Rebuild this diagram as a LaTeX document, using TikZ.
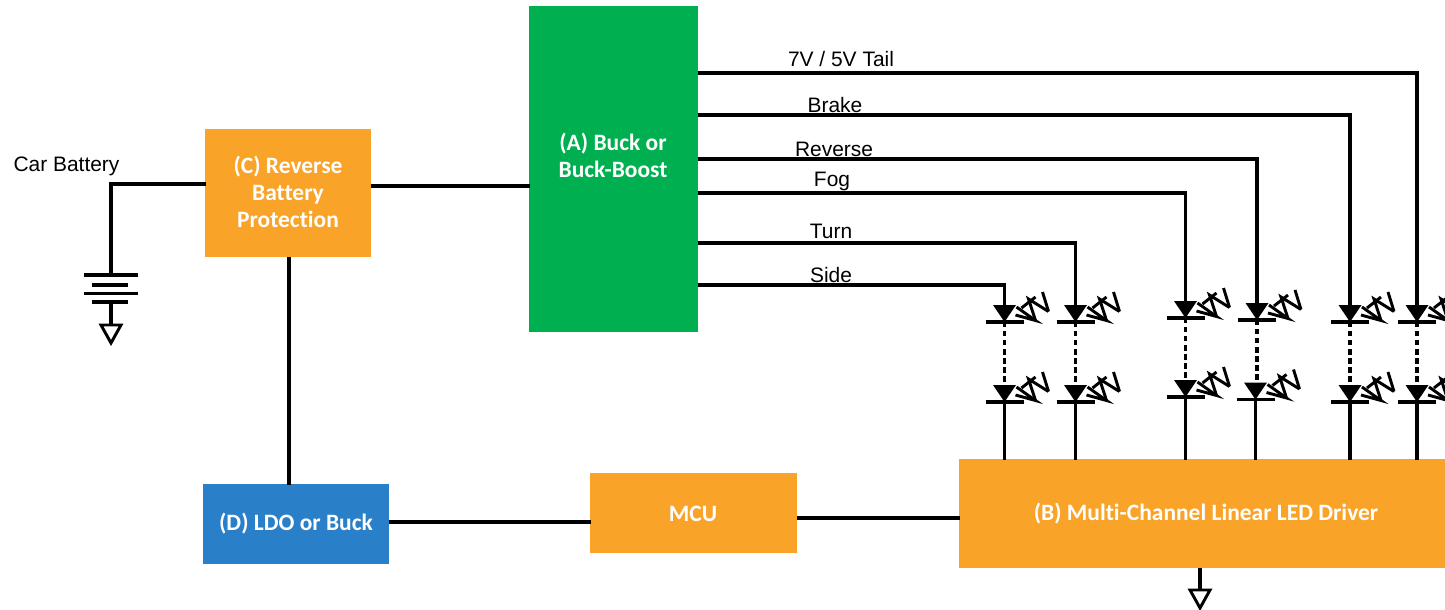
\documentclass[tikz,border=0pt]{standalone}
\usepackage{fontspec}
\setmainfont{Liberation Sans}
\newfontfamily\boxfont{Carlito}[BoldFont={Carlito Bold},Ligatures=NoCommon]
\definecolor{bgreen}{HTML}{00B050}
\definecolor{borange}{HTML}{F9A328}
\definecolor{bblue}{HTML}{2A7FC9}
\tikzset{
  x=0.75pt,y=-0.75pt,
  wire/.style={line width=2.3pt,line join=miter,shorten <=-0.6pt,shorten >=-0.6pt},
  thinwire/.style={line width=2.3pt},
  dots/.style={line width=2.4pt,dash pattern=on 4pt off 2.8pt},
  zig/.style={line width=2.2pt,line join=miter},
  block/.style={draw=none,align=center,text=white,inner sep=0pt,font=\boxfont\bfseries\fontsize{17.6}{20.3}\selectfont,anchor=north west},
  lab/.style={inner sep=0pt,font=\fontsize{15.7}{18}\selectfont},
  gndtri/.style={line width=2.2pt,fill=white,line join=miter},
}
\usetikzlibrary{calc}
% #1 name, #2 x, #3 y of triangle top
\newcommand{\ledsym}[3]{%
  \coordinate (#1-a) at (#2,#3);
  \coordinate (#1-k) at (#2,#3+17);
  \fill ($(#1-a)+(-11.5,0)$) -- ($(#1-a)+(11.5,0)$) -- (#1-k) -- cycle;
  \draw[thinwire] ($(#1-k)+(-19,0)$) -- ($(#1-k)+(19,0)$);
  \draw[zig] ($(#1-k)+(12,-15)$) -- ($(#1-k)+(31,-1.5)$) -- ($(#1-k)+(11,-7)$);
  \draw[zig] ($(#1-k)+(31,-1.5)$) -- ($(#1-k)+(24,-23)$) -- ($(#1-k)+(44,-10.5)$);
  \draw[zig] ($(#1-k)+(17,-14)$) -- ($(#1-k)+(31,-25)$);
  \draw[zig] ($(#1-k)+(44,-10.5)$) -- ($(#1-k)+(38,-30)$);
}
\begin{document}
\begin{tikzpicture}
\useasboundingbox (0,0) rectangle (1445,610);
\clip (0,0) rectangle (1445,610);
% blocks
\node[block,fill=bgreen,minimum width=126.75pt,minimum height=244.5pt] (A) at (529,6) {};
\node[block,fill=borange,minimum width=124.5pt,minimum height=96pt] (C) at (205,129) {};
\node[block,fill=bblue,minimum width=139.5pt,minimum height=60pt] (D) at (203,484) {};
\node[block,fill=borange,minimum width=155.25pt,minimum height=60pt] (M) at (590,473) {};
\node[block,fill=borange,minimum width=364.5pt,minimum height=81.75pt] (B) at (959,459) {};
\node[block,anchor=center] (Atext) at (613,155) {(A) Buck or\\Buck-Boost};
\node[block,anchor=center] (Ctext) at (288,192) {(C) Reverse\\Battery\\Protection};
\node[block,anchor=center] (Dtext) at (296,524) {(D) LDO or Buck};
\node[block,anchor=center] (Mtext) at (693,514) {MCU};
\node[block,anchor=center] (Btext) at (1206,514) {(B) Multi-Channel Linear LED Driver};
% LEDs
\ledsym{Ua}{1004.5}{305}\ledsym{La}{1004.5}{385}
\ledsym{Ub}{1075.5}{305}\ledsym{Lb}{1075.5}{385}
\ledsym{Uc}{1185.5}{301}\ledsym{Lc}{1185.5}{380}
\ledsym{Ud}{1257}{303}\ledsym{Ld}{1255.5}{382.5}
\ledsym{Ue}{1350}{305}\ledsym{Le}{1350}{385}
\ledsym{Uf}{1417}{305}\ledsym{Lf}{1417}{385}
% rails
\draw[wire] (A.north east |- 0,73) -| (Uf-a);
\draw[wire] (A.north east |- 0,115) -| (Ue-a);
\draw[wire] (A.north east |- 0,159) -| (Ud-a);
\draw[wire] (A.north east |- 0,193) -| (Uc-a);
\draw[wire] (A.north east |- 0,243) -| (Ub-a);
\draw[wire] (A.north east |- 0,285) -| (Ua-a);
% dotted strings and driver feeds
\foreach \c in {a,b,c,d,e,f}{
  \draw[dots] (U\c-k) -- (U\c-k |- L\c-a);
  \draw[wire] (L\c-k) -- (L\c-k |- B.north);
}
% other wires
\draw[wire] (C.east |- 0,186) -- (A.west |- 0,186);
\draw[wire] (C.south -| 289,0) -- (D.north -| 289,0);
\draw[wire] (D.east |- 0,522) -- (M.west |- 0,522);
\draw[wire] (M.east |- 0,518) -- (B.west |- 0,518);
% battery
\coordinate (bat) at (111,275);
\coordinate (batb) at (111,302);
\coordinate (gnda) at (111,325);
\coordinate (gndb) at (1200,590);
\draw[wire] (C.west |- 0,184) -| (bat);
\draw[thinwire] (84,275) -- (138,275);
\draw[thinwire] (92,285) -- (128,285);
\draw[thinwire] (84,293.5) -- (138,293.5);
\draw[thinwire] (92,302) -- (128,302);
\draw[wire] (batb) -- (gnda);
\draw[gndtri] ($(gnda)+(-10,0)$) -- ($(gnda)+(10,0)$) -- ($(gnda)+(0,18)$) -- cycle;
\draw[wire] (B.south -| gndb) -- (gndb);
\draw[gndtri] ($(gndb)+(-10,0)$) -- ($(gndb)+(10,0)$) -- ($(gndb)+(0,18)$) -- cycle;
% labels
\node[lab] (lbat) at (66.5,166) {Car Battery};
\node[lab] (ltail) at (841,59.5) {7V / 5V Tail};
\node[lab] (lbrake) at (835,105) {Brake};
\node[lab] (lrev) at (834,149.5) {Reverse};
\node[lab] (lfog) at (832,181) {Fog};
\node[lab] (lturn) at (831,231.5) {Turn};
\node[lab] (lside) at (831,275) {Side};
\end{tikzpicture}
\end{document}
